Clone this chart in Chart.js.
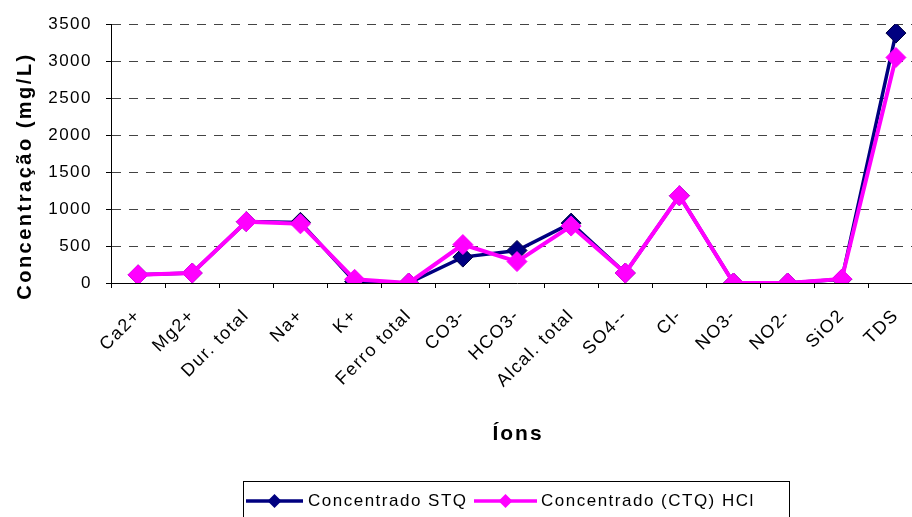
<!DOCTYPE html>
<html>
<head>
<meta charset="utf-8">
<script src="https://cdn.jsdelivr.net/npm/chart.js@4.4.1/dist/chart.umd.min.js"></script>
<style>
  html, body { margin: 0; padding: 0; background: #fff; overflow: hidden; }
  #myChart { display: block; }
</style>
</head>
<body>
<canvas id="myChart" width="934" height="517"></canvas>
<script>
// ions analysed
const ions = ["Ca2+", "Mg2+", "Dur. total", "Na+", "K+", "Ferro total", "CO3-", "HCO3-",
  "Alcal. total", "SO4--", "Cl-", "NO3-", "NO2-", "SiO2", "TDS"];

// concentrations in mg/L
const stqValues = [110, 135, 830, 820, 20, 0, 350, 440, 810, 135, 1180, 0, 0, 50, 3380];
const ctqValues = [110, 135, 830, 800, 50, 0, 520, 290, 770, 135, 1180, 0, 0, 55, 3050];

const yTicks = [0, 500, 1000, 1500, 2000, 2500, 3000, 3500];

const seriesNames = ["Concentrado STQ", "Concentrado (CTQ) HCl"];
const seriesColors = ["#000080", "#FF00FF"];

const yTitle = "Concentração (mg/L)";
const xTitle = "Íons";

const FONT = "'Liberation Sans', Arial, sans-serif";

function spacedText(ctx, txt, x, y, spacing) {
  ctx.letterSpacing = spacing + "px";
  ctx.fillText(txt, x, y);
  ctx.letterSpacing = "0px";
}

// letter spacing for the tick labels, titles and the legend box
const excelText = {
  id: "excelText",
  beforeUpdate(chart) { chart.ctx.letterSpacing = "1.5px"; },
  beforeDraw(chart) { chart.ctx.letterSpacing = "1.5px"; },
  afterDraw(chart) {
    const ctx = chart.ctx;
    ctx.save();
    ctx.fillStyle = "#000";
    ctx.font = "bold 20px " + FONT;
    ctx.textAlign = "center";
    ctx.textBaseline = "middle";
    // y axis title
    ctx.save();
    ctx.translate(25, 176);
    ctx.rotate(-Math.PI / 2);
    spacedText(ctx, yTitle, 0, 0, 2.5);
    ctx.restore();
    // x axis title
    ctx.font = "bold 21px " + FONT;
    spacedText(ctx, xTitle, 518, 434, 2);

    // legend
    ctx.strokeStyle = "#000";
    ctx.lineWidth = 1;
    ctx.strokeRect(243.5, 481.5, 546, 60);
    const items = [
      { x1: 246, x2: 303, tx: 308 },
      { x1: 474, x2: 537, tx: 541 }
    ];
    ctx.font = "17px " + FONT;
    ctx.textAlign = "left";
    items.forEach(function (it, i) {
      const ds = chart.data.datasets[i];
      const y = 501;
      ctx.strokeStyle = ds.borderColor;
      ctx.lineWidth = 3.5;
      ctx.beginPath();
      ctx.moveTo(it.x1, y);
      ctx.lineTo(it.x2, y);
      ctx.stroke();
      const cx = (it.x1 + it.x2) / 2;
      ctx.fillStyle = ds.pointBackgroundColor;
      ctx.beginPath();
      ctx.moveTo(cx, y - 7);
      ctx.lineTo(cx + 7, y);
      ctx.lineTo(cx, y + 7);
      ctx.lineTo(cx - 7, y);
      ctx.closePath();
      ctx.fill();
      ctx.fillStyle = "#000";
      spacedText(ctx, ds.label, it.tx, y, 1.5);
    });
    ctx.restore();
  }
};

var ctx = document.getElementById("myChart").getContext("2d");

var chart = new Chart(ctx, {
  type: "line",
  data: {
    labels: ions,
    datasets: [
      {
        label: seriesNames[0],
        data: stqValues,
        borderColor: seriesColors[0],
        backgroundColor: seriesColors[0],
        pointBackgroundColor: seriesColors[0],
        pointBorderColor: "#000040",
        borderWidth: 3.5,
        pointStyle: "rectRot",
        pointRadius: 10,
        pointBorderWidth: 1,
        order: 1
      },
      {
        label: seriesNames[1],
        data: ctqValues,
        borderColor: seriesColors[1],
        backgroundColor: seriesColors[1],
        pointBackgroundColor: seriesColors[1],
        pointBorderColor: seriesColors[1],
        borderWidth: 4,
        pointStyle: "rectRot",
        pointRadius: 10,
        pointBorderWidth: 1,
        order: 0
      }
    ]
  },
  options: {
    responsive: false,
    animation: false,
    devicePixelRatio: 1,
    layout: { padding: { top: 24, right: 4, left: 0, bottom: 0 } },
    plugins: {
      legend: { display: false },
      tooltip: { enabled: false }
    },
    scales: {
      x: {
        offset: true,
        grid: {
          offset: true,
          drawOnChartArea: false,
          drawTicks: true,
          tickLength: 5,
          color: "#000"
        },
        border: { color: "#000", width: 1 },
        ticks: {
          color: "#000",
          font: { family: FONT, size: 18 },
          minRotation: 45,
          maxRotation: 45,
          autoSkip: false,
          padding: 17
        },
        afterFit: function (scale) {
          scale.height = 234;
          scale.paddingLeft = 0;
          scale.paddingRight = 0;
        }
      },
      y: {
        min: 0,
        max: 3500,
        afterBuildTicks: function (scale) {
          scale.ticks = yTicks.map(function (v) { return { value: v }; });
        },
        grid: {
          color: "#444",
          lineWidth: 1,
          tickLength: 5,
          tickColor: "#000",
          tickBorderDash: []
        },
        border: { color: "#000", width: 1, dash: [9, 8] },
        ticks: {
          color: "#000",
          font: { family: FONT, size: 17 },
          padding: 14,
          callback: function (v) { return String(v); }
        },
        afterFit: function (scale) { scale.width = 111; }
      }
    }
  },
  plugins: [excelText]
});
</script>
</body>
</html>
